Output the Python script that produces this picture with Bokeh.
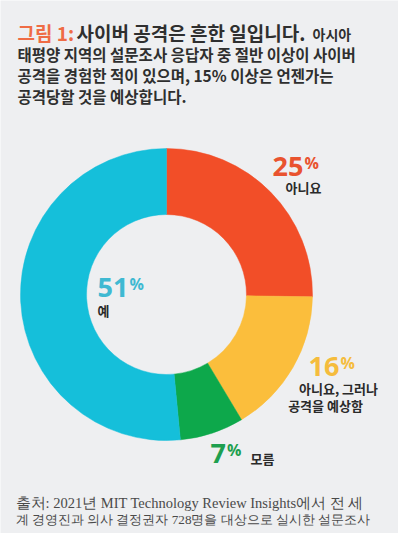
import math
from bokeh.plotting import figure
from bokeh.models import Range1d
from bokeh.core.properties import value
from bokeh.embed import file_html
from bokeh.resources import INLINE

# ---- data ----
categories = ["아니요", "아니요, 그러나 공격을 예상함", "모름", "예"]
shares = [25, 16, 7, 51]
colors = ["#F24E28", "#FBBE3C", "#0DA84B", "#15BFDA"]
label_colors = ["#E9532F", "#F5BC3C", "#1E9F4F", "#3FB9D2"]

title_lines = [
    "태평양 지역의 설문조사 응답자 중 절반 이상이 사이버",
    "공격을 경험한 적이 있으며, 15% 이상은 언젠가는",
    "공격당할 것을 예상합니다.",
]
source_lines = [
    "출처: 2021년 MIT Technology Review Insights에서 전 세",
    "계 경영진과 의사 결정권자 728명을 대상으로 실시한 설문조사",
]

W, H = 398, 533
BG = "#EEEFF1"
KR = value("Noto Sans CJK KR")
NUM = value("Open Sans")

p = figure(width=W, height=H, output_backend="svg", toolbar_location=None,
           x_range=Range1d(0, W), y_range=Range1d(-H, 0),
           x_axis_type=None, y_axis_type=None, min_border=0)
p.background_fill_color = BG
p.border_fill_color = BG
p.outline_line_color = None
p.grid.visible = False

def Y(v):
    return -v

# ---- donut ----
cx, cy = 166, 294
r_in, r_out = 80, 146
total = sum(shares)
cum = 0
starts, ends = [], []
for s in shares:
    starts.append(math.pi / 2 - cum / total * 2 * math.pi)
    cum += s
    ends.append(math.pi / 2 - cum / total * 2 * math.pi)

p.annular_wedge(x=[cx] * 4, y=[Y(cy)] * 4, inner_radius=r_in, outer_radius=r_out,
                start_angle=starts, end_angle=ends, direction="clock",
                fill_color=colors, line_color=colors, line_width=0.5)

# ---- title ----
p.text(x=[17], y=[Y(32)], text=["그림 1:"], text_font=KR, text_font_size="19px",
       text_font_style="bold", text_color="#EF6C45", text_baseline="middle")
p.text(x=[76], y=[Y(32)], text=["사이버 공격은 흔한 일입니다."], text_font=KR,
       text_font_size="19px", text_font_style="bold", text_color="#2F2F2F",
       text_baseline="middle")
p.text(x=[312], y=[Y(33)], text=["아시아"], text_font=KR, text_font_size="14px",
       text_font_style="bold", text_color="#2F2F2F", text_baseline="middle")
p.text(x=[17] * 3, y=[Y(53), Y(74), Y(95)], text=title_lines, text_font=KR,
       text_font_size="15.5px", text_font_style="bold", text_color="#2F2F2F",
       text_baseline="middle")

# ---- percent labels ----
pct_pos = [(272, 166), (308, 366), (210, 453), (97, 287)]
cat_lines = [["아니요"], ["아니요, 그러나", "공격을 예상함"], ["모름"], ["예"]]
cat_pos = [([303], [187], "center"), ([338, 325], [388, 405], "center"),
           ([250], [458], "left"), ([97], [310], "left")]

for i, s in enumerate(shares):
    nx, ny = pct_pos[i]
    num = str(s)
    p.text(x=[nx], y=[Y(ny)], text=[num], text_font=NUM, text_font_size="27px",
           text_font_style="bold", text_color=label_colors[i], text_baseline="middle")
    pw = 15.5 * len(num)
    p.text(x=[nx + pw + 1], y=[Y(ny - 4)], text=["%"], text_font=NUM,
           text_font_size="16px", text_font_style="bold",
           text_color=label_colors[i], text_baseline="middle")
    xs, ys, al = cat_pos[i]
    p.text(x=xs, y=[Y(v) for v in ys], text=cat_lines[i], text_font=KR,
           text_font_size="13px", text_font_style="bold", text_color="#2A2A2A",
           text_baseline="middle", text_align=al)

# ---- source ----
p.text(x=[15], y=[Y(502)], text=[source_lines[0]],
       text_font=value("Liberation Serif"), text_font_size="14.5px",
       text_color="#4A4A4A", text_baseline="middle")
p.text(x=[15], y=[Y(519)], text=[source_lines[1]],
       text_font=value("Liberation Serif"), text_font_size="13.2px",
       text_color="#4A4A4A", text_baseline="middle")

open("out.html", "w").write(file_html(p, INLINE))
